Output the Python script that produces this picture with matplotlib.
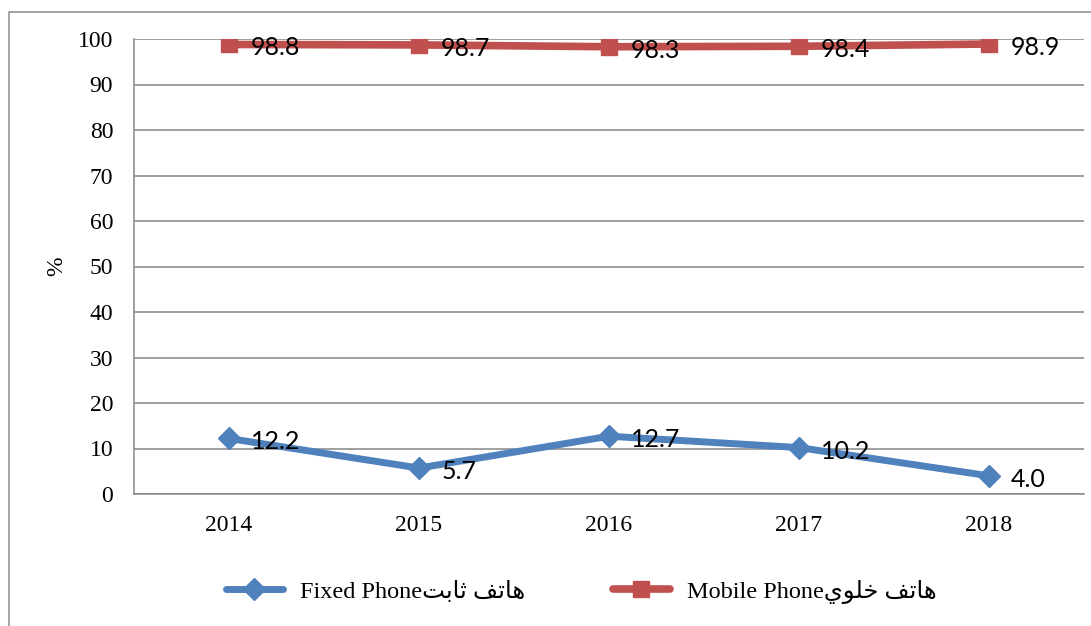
import matplotlib
matplotlib.use("Agg")
import matplotlib.pyplot as plt
from matplotlib.patches import Rectangle
from matplotlib.lines import Line2D
from matplotlib.font_manager import FontProperties

# Data
years = ["2014", "2015", "2016", "2017", "2018"]
fixed_phone = [12.2, 5.7, 12.7, 10.2, 4.0]
mobile_phone = [98.8, 98.7, 98.3, 98.4, 98.9]
yticks = [0, 10, 20, 30, 40, 50, 60, 70, 80, 90, 100]

# Arabic words written in presentation forms, in visual (left-to-right) order
fixed_label = "Fixed Phone" + "\uFE96\uFE91\uFE8E\uFE9B \uFED2\uFE97\uFE8E\uFEEB"
mobile_label = "Mobile Phone" + "\uFEF1\uFEEE\uFEE0\uFEA7 \uFED2\uFE97\uFE8E\uFEEB"

BLUE = "#4F81BD"
RED = "#C0504D"
GRID = "#868686"

W, H = 1091, 626
plt.rcParams["font.family"] = ["Liberation Serif", "DejaVu Sans"]

fig = plt.figure(figsize=(W / 100, H / 100), dpi=100)
fig.patch.set_facecolor("white")

# outer chart frame
fig.patches.append(Rectangle((9 / W, -0.1), 1.2, 1.1 - 12 / H,
                             transform=fig.transFigure, fill=False,
                             edgecolor="#8c8c8c", linewidth=1.1, zorder=0))

ax = fig.add_axes([134 / W, (H - 494) / H, 950 / W, 455 / H])
x = list(range(len(years)))

ax.plot(x, fixed_phone, color=BLUE, linewidth=5, marker="D", markersize=11,
        markerfacecolor=BLUE, markeredgecolor=BLUE, solid_joinstyle="round",
        solid_capstyle="round", zorder=3)
ax.plot(x, mobile_phone, color=RED, linewidth=5.5, marker="s", markersize=11,
        markerfacecolor=RED, markeredgecolor=RED, solid_joinstyle="round",
        solid_capstyle="round", zorder=3)

label_font = dict(family="Lato", size=18, color="black")
for xi, v in zip(x, fixed_phone):
    ax.annotate(f"{v:.1f}", (xi, v), xytext=(16, -2.5), textcoords="offset points",
                ha="left", va="center", zorder=4, **label_font)
for xi, v in zip(x, mobile_phone):
    ax.annotate(f"{v:.1f}", (xi, v), xytext=(16, -2.5), textcoords="offset points",
                ha="left", va="center", zorder=4, **label_font)

ax.set_xlim(-0.5, len(years) - 0.5)
ax.set_ylim(0, 100)
ax.set_yticks(yticks)
ax.set_xticks(x)
ax.set_xticklabels(years)
ax.yaxis.grid(True, color=GRID, linewidth=1.1)
ax.set_axisbelow(True)
for side in ("top", "right"):
    ax.spines[side].set_visible(False)
for side in ("left", "bottom"):
    ax.spines[side].set_color(GRID)
    ax.spines[side].set_linewidth(1.1)
ax.tick_params(axis="both", length=0, labelsize=17)
ax.tick_params(axis="y", pad=15)
ax.tick_params(axis="x", pad=15)

fig.text(57 / W, 1 - 266 / H, "%", rotation=90, ha="center", va="center",
         fontsize=17)

handles = [
    Line2D([], [], color=BLUE, linewidth=5, marker="D", markersize=11,
           solid_capstyle="round"),
    Line2D([], [], color=RED, linewidth=5.5, marker="s", markersize=11,
           solid_capstyle="round"),
]
fig.legend(handles, [fixed_label, mobile_label], loc="center",
           bbox_to_anchor=(581 / W, 1 - 592 / H), ncol=2, frameon=False,
           prop=FontProperties(family=["Liberation Serif", "DejaVu Sans"], size=17.5),
           handlelength=2.35, handletextpad=0.7, columnspacing=3.6)

fig.savefig("out.png", dpi=100)
